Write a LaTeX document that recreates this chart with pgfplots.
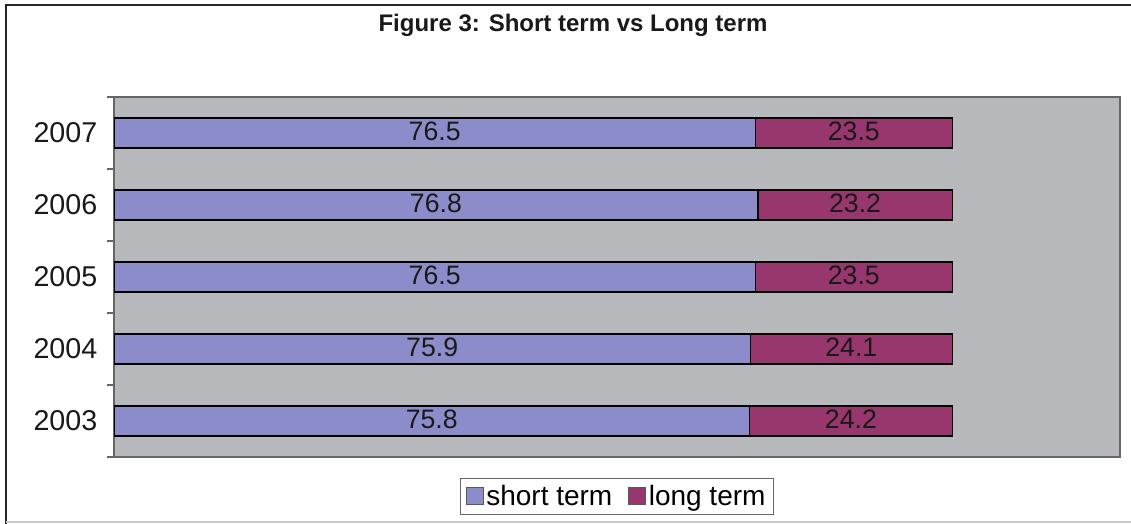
\documentclass[border=0pt]{standalone}
\usepackage{pgfplots}
\pgfplotsset{compat=1.18}
\usepackage{pgfplotstable}
\usepackage{fontspec}
\setmainfont{Liberation Sans}
\definecolor{shortc}{RGB}{140,140,202}
\definecolor{longc}{RGB}{152,54,110}
\definecolor{bgc}{RGB}{184,185,188}
\pgfplotstableread{
yr short long
0 75.8 24.2
1 75.9 24.1
2 76.5 23.5
3 76.8 23.2
4 76.5 23.5
}\datatable
\begin{document}
\begin{tikzpicture}
\useasboundingbox (0,0) rectangle (848.25pt,393pt);
\draw[line width=1.5pt, draw=black!85] (4.5pt,0) -- (4.5pt,389.25pt) -- (848.25pt,389.25pt);
\draw[line width=1pt, draw=black!20] (4.5pt,1.5pt) -- (848.25pt,1.5pt);
\node[font=\bfseries\fontsize{18}{22}\selectfont, text=black!90] at (429.75pt,374.25pt) {Figure 3: Short term vs Long term};
\begin{axis}[
  at={(85.5pt,50.25pt)}, anchor=south west,
  scale only axis, width=754.5pt, height=270pt,
  xbar stacked, bar width=22.5pt,
  xmin=0, xmax=120, ymin=-0.5, ymax=4.5,
  xtick=\empty,
  ytick={0,...,4}, yticklabels={2003,2004,2005,2006,2007},
  minor ytick={-0.5,0.5,...,4.5},
  ytick pos=left,
  major tick length=0pt, minor tick length=5.25pt, tick align=outside,
  minor tick style={draw=gray!80!black, line width=0.8pt},
  axis background/.style={fill=bgc},
  axis line style={draw=gray!80!black, line width=1pt},
  yticklabel style={font=\fontsize{21.5}{24}\selectfont, xshift=-9pt, text=black!90},
  legend style={at={(0.5,0)}, anchor=north, yshift=-15.75pt, legend columns=-1,
    draw=gray!80!black, fill=white, line width=0.8pt,
    font=\fontsize{21}{24}\selectfont, inner xsep=4pt, inner ysep=3pt,
    /tikz/every even column/.append style={column sep=10pt}},
  legend image code/.code={\draw[#1, draw=gray!70!black, line width=0.6pt] (0pt,-6.4pt) rectangle (12.75pt,6.4pt);},
  nodes near coords={\pgfmathprintnumber[fixed,fixed zerofill,precision=1,assume math mode=true]{\pgfplotspointmeta}},
  every node near coord/.append style={anchor=center, yshift=1pt, font=\fontsize{20}{22}\selectfont, text=black!90},
]
\addplot[fill=shortc, draw=black, line width=1.1pt, point meta=\thisrow{short}]
  table[x=short,y=yr]{\datatable};
\addplot[fill=longc, draw=black, line width=1.1pt, point meta=\thisrow{long}]
  table[x=long,y=yr]{\datatable};
\legend{short term, long term}
\end{axis}
\end{tikzpicture}
\end{document}
